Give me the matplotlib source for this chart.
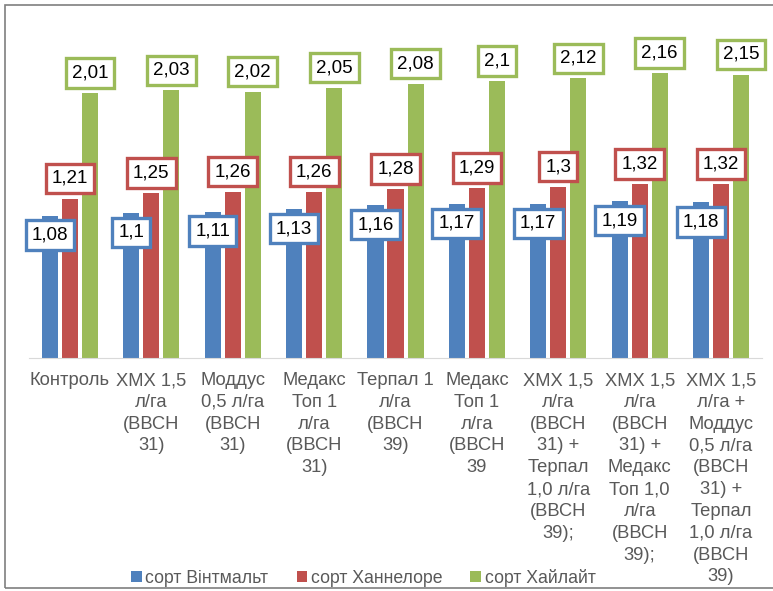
import matplotlib.pyplot as plt
import numpy as np
from matplotlib.patches import Rectangle

plt.rcParams['font.family'] = ['Liberation Sans', 'DejaVu Sans']

# data
categories = [
    "Контроль",
    "ХМХ 1,5\nл/га\n(ВВСН\n31)",
    "Моддус\n0,5 л/га\n(ВВСН\n31)",
    "Медакс\nТоп 1\nл/га\n(ВВСН\n31)",
    "Терпал 1\nл/га\n(ВВСН\n39)",
    "Медакс\nТоп 1\nл/га\n(ВВСН\n39",
    "ХМХ 1,5\nл/га\n(ВВСН\n31) +\nТерпал\n1,0 л/га\n(ВВСН\n39);",
    "ХМХ 1,5\nл/га\n(ВВСН\n31) +\nМедакс\nТоп 1,0\nл/га\n(ВВСН\n39);",
    "ХМХ 1,5\nл/га +\nМоддус\n0,5 л/га\n(ВВСН\n31) +\nТерпал\n1,0 л/га\n(ВВСН\n39)",
]
vintmalt = [1.08, 1.1, 1.11, 1.13, 1.16, 1.17, 1.17, 1.19, 1.18]
hannelore = [1.21, 1.25, 1.26, 1.26, 1.28, 1.29, 1.3, 1.32, 1.32]
hailait = [2.01, 2.03, 2.02, 2.05, 2.08, 2.1, 2.12, 2.16, 2.15]
series_names = ["сорт Вінтмальт", "сорт Ханнелоре", "сорт Хайлайт"]

colors = ["#4F81BD", "#C0504D", "#9BBB59"]
text_gray = "#595959"

fig = plt.figure(figsize=(7.73, 5.91), dpi=100)
ax = fig.add_axes([0.0379, 0.394, 0.9475, 0.558])

x = np.arange(len(categories))
w = 0.197
step = 0.246
offsets = [-step, 0, step]
label_dy = [-14, 14.5, 14.5]

for i, (vals, name, col) in enumerate(zip([vintmalt, hannelore, hailait], series_names, colors)):
    ax.bar(x + offsets[i], vals, width=w, color=col, label=name)
    for xi, v in zip(x + offsets[i], vals):
        txt = f"{v:g}".replace('.', ',')
        ax.annotate(txt, (xi, v), xytext=(0, label_dy[i]), textcoords='offset points',
                    ha='center', va='center', fontsize=13.5, color='black',
                    bbox=dict(boxstyle='square,pad=0.33', fc='white', ec=col, lw=2.4),
                    zorder=5)

ax.set_xlim(-0.5, len(categories) - 0.5)
ax.set_ylim(0, 2.5)
ax.set_yticks([])
ax.set_xticks(x)
ax.set_xticklabels(categories, fontsize=13.2, color=text_gray, linespacing=1.37, va='top')
ax.tick_params(axis='x', length=0, pad=10)
for s in ['top', 'right', 'left']:
    ax.spines[s].set_visible(False)
ax.spines['bottom'].set_color('#D9D9D9')

leg = fig.legend(loc='center', bbox_to_anchor=(0.470, 0.022), ncol=3, frameon=False,
                 fontsize=12.7, handlelength=0.6, handleheight=0.6, handletextpad=0.2,
                 columnspacing=1.6, labelcolor=text_gray)

fig.patches.append(Rectangle((5 / 773, 3 / 591), 1.0, 583 / 591, transform=fig.transFigure,
                             fill=False, ec='#7F7F7F', lw=1.2))

fig.savefig('out.png', dpi=100)
